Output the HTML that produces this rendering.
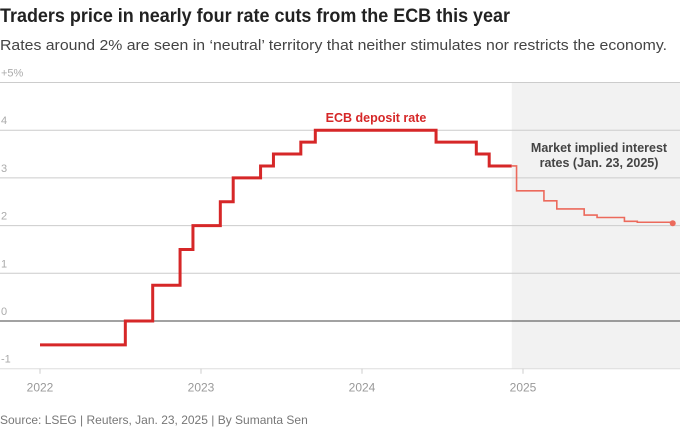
<!DOCTYPE html>
<html><head><meta charset="utf-8"><style>
body{margin:0;background:#fff;width:680px;height:429px;overflow:hidden;font-family:"Liberation Sans",sans-serif}
</style></head><body>
<svg width="680" height="429" xmlns="http://www.w3.org/2000/svg">
<text x="0" y="22" font-size="19" font-weight="bold" fill="#222" textLength="510" lengthAdjust="spacingAndGlyphs">Traders price in nearly four rate cuts from the ECB this year</text>
<text x="0" y="50" font-size="15" fill="#444" textLength="667" lengthAdjust="spacingAndGlyphs">Rates around 2% are seen in ‘neutral’ territory that neither stimulates nor restricts the economy.</text>
<g id="plot"></g>
<text x="0" y="424" font-size="12" fill="#777">Source: LSEG | Reuters, Jan. 23, 2025 | By Sumanta Sen</text>
</svg>
<script>
const yTicks=[-1,0,1,2,3,4,5];
const yTickLabels=["-1","0","1","2","3","4","+5%"];
const xTicks=[2022,2023,2024,2025];
const ecbDates=[2022.0,2022.53,2022.70,2022.87,2022.95,2023.12,2023.20,2023.37,2023.45,2023.62,2023.71,2024.46,2024.71,2024.79,2024.93];
const ecbRates=[-0.5,0,0.75,1.5,2.0,2.5,3.0,3.25,3.5,3.75,4.0,3.75,3.5,3.25,3.25];
const mktDates=[2024.93,2024.96,2025.13,2025.21,2025.38,2025.46,2025.63,2025.71,2025.93];
const mktRates=[3.25,2.73,2.52,2.35,2.22,2.17,2.09,2.07,2.05];
const shadeStart=2024.93;
const NS="http://www.w3.org/2000/svg";
const X=t=>40+(t-2022)*161;
const Y=v=>321-v*47.7;
const g=document.getElementById('plot');
function mk(tag,attrs){const e=document.createElementNS(NS,tag);for(const k in attrs)e.setAttribute(k,attrs[k]);g.appendChild(e);return e;}
const sh=mk('rect',{x:X(shadeStart),y:Y(5),width:680-X(shadeStart),height:Y(-1)-Y(5),fill:'#f2f2f2'});


yTicks.forEach((v,i)=>{
  if(v>-1){const l=mk('line',{x1:0,x2:680,y1:Y(v),y2:Y(v),stroke:v===0?'#444':'#ccc','stroke-width':1});
  
  }
  const t=mk('text',{x:1,y:Y(v)-6,'font-size':11,fill:'#aaa'});t.textContent=yTickLabels[i];
  
  
});
const ax=mk('line',{x1:0,x2:680,y1:Y(-1),y2:Y(-1),stroke:'#ddd','stroke-width':1});


xTicks.forEach(yr=>{
  const tk=mk('line',{x1:X(yr),x2:X(yr),y1:Y(-1),y2:Y(-1)+5,stroke:'#ccc'});
  
  
  const t=mk('text',{x:X(yr),y:Y(-1)+23,'font-size':12,fill:'#999','text-anchor':'middle'});t.textContent=yr;
  
  
});
function stepPath(ds,rs){let d='M'+X(ds[0])+','+Y(rs[0]);for(let i=1;i<ds.length;i++){d+=' H'+X(ds[i])+' V'+Y(rs[i]);}return d;}
const p1=mk('path',{d:stepPath(ecbDates,ecbRates)+' H'+X(ecbDates[ecbDates.length-1]),fill:'none',stroke:'#d62728','stroke-width':3});


const p2=mk('path',{d:stepPath(mktDates,mktRates),fill:'none',stroke:'#ec6a5c','stroke-width':1.6});


const dot=mk('circle',{cx:X(mktDates[mktDates.length-1]),cy:Y(mktRates[mktRates.length-1]),r:3,fill:'#ec6a5c'});


const l1=mk('text',{x:376,y:122,'font-size':12.5,'font-weight':'bold',fill:'#d62728','text-anchor':'middle'});l1.textContent='ECB deposit rate';


const l2=mk('text',{x:599,y:152,'font-size':12.5,'font-weight':'bold',fill:'#444','text-anchor':'middle'});l2.textContent='Market implied interest';


const l3=mk('text',{x:599,y:167,'font-size':12.5,'font-weight':'bold',fill:'#444','text-anchor':'middle'});l3.textContent='rates (Jan. 23, 2025)';


</script>
</body></html>
